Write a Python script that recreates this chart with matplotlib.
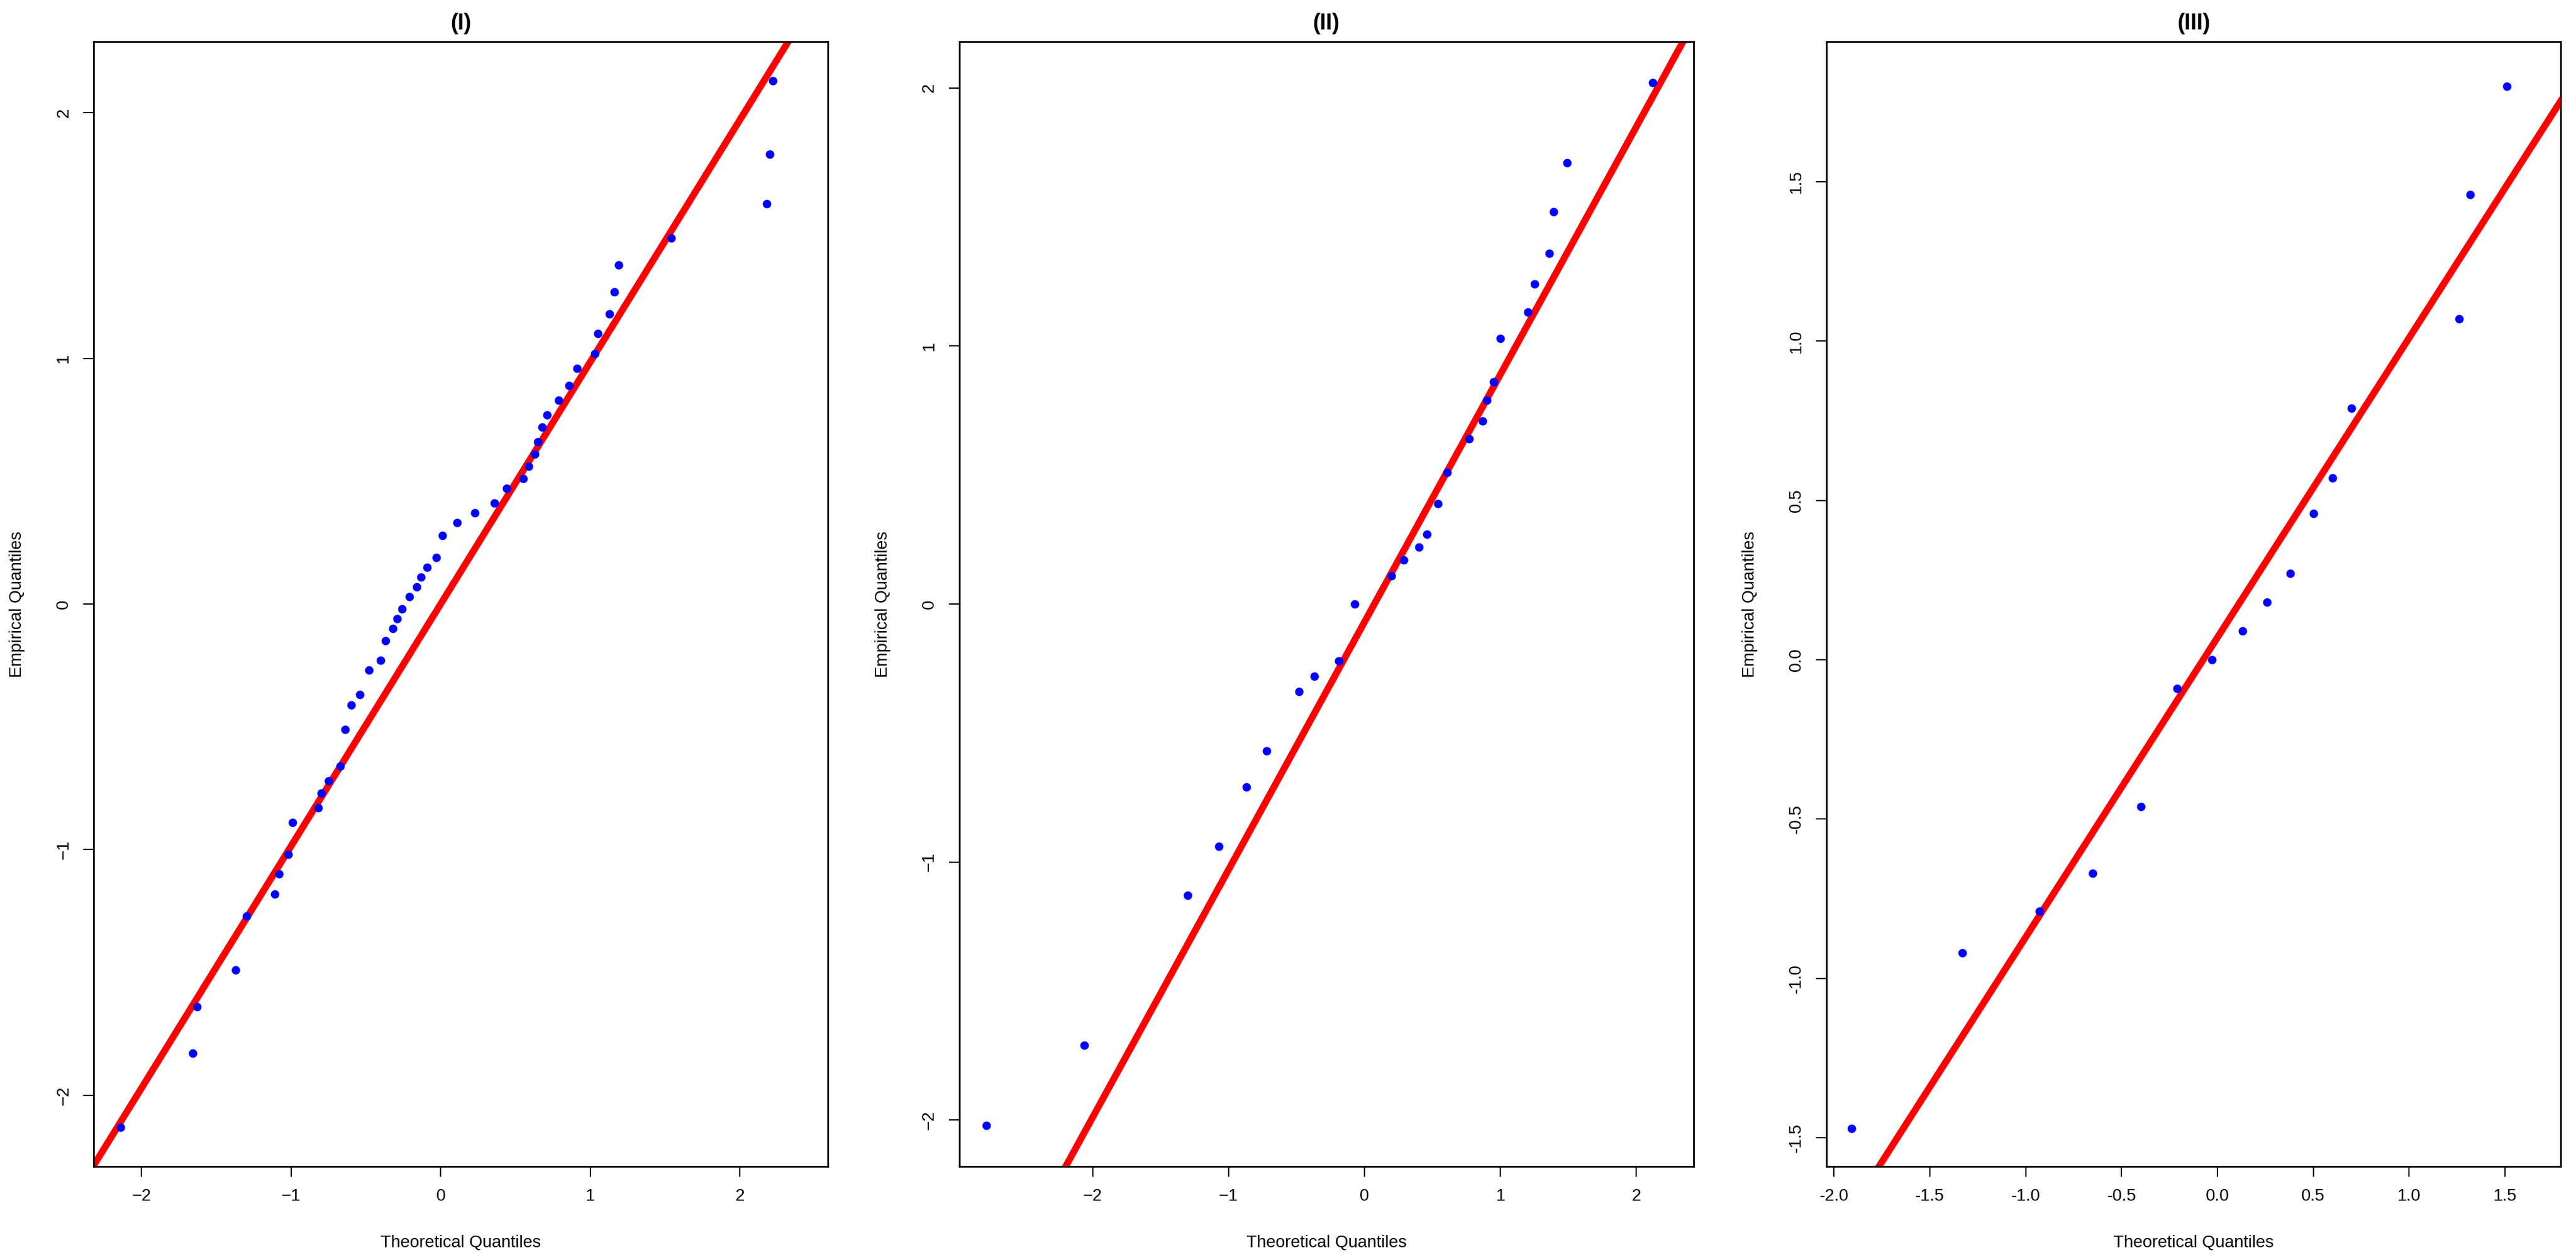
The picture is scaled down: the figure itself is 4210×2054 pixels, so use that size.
import matplotlib
matplotlib.use("Agg")
import matplotlib.pyplot as plt

# Panel (I)
theo_1 = [-2.14, -1.66, -1.63, -1.37, -1.30, -1.11, -1.08, -1.02, -0.99, -0.82, -0.80, -0.75,
          -0.67, -0.64, -0.60, -0.54, -0.48, -0.40, -0.37, -0.32, -0.29, -0.26, -0.21, -0.16,
          -0.13, -0.09, -0.03, 0.01, 0.11, 0.23, 0.36, 0.44, 0.55, 0.59, 0.63, 0.65, 0.68,
          0.71, 0.79, 0.86, 0.91, 1.03, 1.05, 1.13, 1.16, 1.19, 1.54, 2.18, 2.20, 2.22]
emp_1 = [-2.13, -1.83, -1.64, -1.49, -1.27, -1.18, -1.10, -1.02, -0.89, -0.83, -0.77, -0.72,
         -0.66, -0.51, -0.41, -0.37, -0.27, -0.23, -0.15, -0.10, -0.06, -0.02, 0.03, 0.07,
         0.11, 0.15, 0.19, 0.28, 0.33, 0.37, 0.41, 0.47, 0.51, 0.56, 0.61, 0.66, 0.72,
         0.77, 0.83, 0.89, 0.96, 1.02, 1.10, 1.18, 1.27, 1.38, 1.49, 1.63, 1.83, 2.13]
# Panel (II)
theo_2 = [-2.78, -2.06, -1.30, -1.07, -0.87, -0.72, -0.48, -0.37, -0.19, -0.07, 0.20, 0.29,
          0.40, 0.46, 0.54, 0.61, 0.77, 0.87, 0.90, 0.95, 1.00, 1.20, 1.25, 1.36, 1.39, 1.49, 2.12]
emp_2 = [-2.02, -1.71, -1.13, -0.94, -0.71, -0.57, -0.34, -0.28, -0.22, 0.00, 0.11, 0.17,
         0.22, 0.27, 0.39, 0.51, 0.64, 0.71, 0.79, 0.86, 1.03, 1.13, 1.24, 1.36, 1.52, 1.71, 2.02]
# Panel (III)
theo_3 = [-1.91, -1.33, -0.93, -0.65, -0.40, -0.21, -0.03, 0.13, 0.26, 0.38, 0.50, 0.60,
          0.70, 1.26, 1.32, 1.51]
emp_3 = [-1.47, -0.92, -0.79, -0.67, -0.46, -0.09, 0.00, 0.09, 0.18, 0.27, 0.46, 0.57,
         0.79, 1.07, 1.46, 1.80]

titles = ["(I)", "(II)", "(III)"]
lines = [(0.0, 0.985), (-0.07, 0.96), (0.07, 0.94)]  # intercept, slope
xlims = [(-2.32, 2.59), (-2.98, 2.42), (-2.04, 1.79)]
ylims = [(-2.29, 2.29), (-2.18, 2.18), (-1.59, 1.94)]
xticks = [[-2, -1, 0, 1, 2], [-2, -1, 0, 1, 2],
          [-2.0, -1.5, -1.0, -0.5, 0.0, 0.5, 1.0, 1.5]]
yticks = [[-2, -1, 0, 1, 2], [-2, -1, 0, 1, 2],
          [-1.5, -1.0, -0.5, 0.0, 0.5, 1.0, 1.5]]
lefts = [0.0364, 0.3724, 0.709]
width = 0.285

plt.rcParams["font.family"] = ["Liberation Sans", "DejaVu Sans"]
fig = plt.figure(figsize=(42.1, 20.54), dpi=100)
data = [(theo_1, emp_1), (theo_2, emp_2), (theo_3, emp_3)]
for i, (tx, ey) in enumerate(data):
    ax = fig.add_axes([lefts[i], 0.072, width, 0.895])
    ax.plot(tx, ey, "o", color="#0000ff", markersize=9, zorder=3)
    b, m = lines[i]
    ax.axline((0, b), slope=m, color="#ff0000", linewidth=8, zorder=2)
    ax.set_xlim(*xlims[i])
    ax.set_ylim(*ylims[i])
    ax.set_xticks(xticks[i])
    ax.set_yticks(yticks[i])
    if i == 2:
        ax.set_xticklabels([f"{v:.1f}" for v in xticks[i]])
        ax.set_yticklabels([f"{v:.1f}" for v in yticks[i]])
    ax.tick_params(labelsize=20, length=12, width=1.5, pad=14)
    for lab in ax.get_yticklabels():
        lab.set_rotation(90)
        lab.set_va("center")
    for s in ax.spines.values():
        s.set_linewidth(2)
    ax.set_title(titles[i], fontsize=26, fontweight="bold", pad=14)
    ax.set_xlabel("Theoretical Quantiles", fontsize=20, labelpad=36)
    ax.set_ylabel("Empirical Quantiles", fontsize=20, labelpad=36)

fig.savefig("out.png", dpi=100)
